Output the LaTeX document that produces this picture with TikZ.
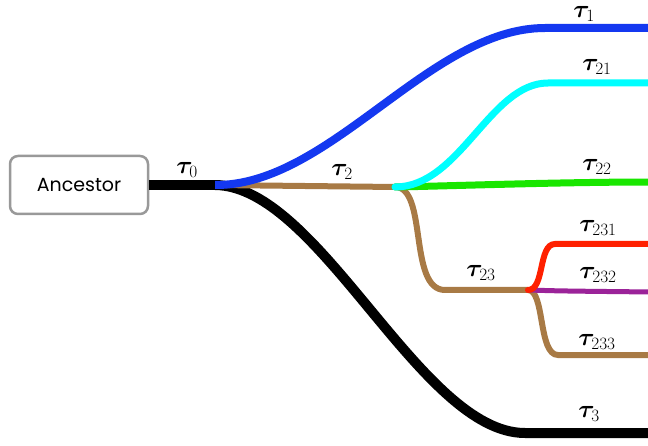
\documentclass[tikz,border=0pt]{standalone}
\usepackage{fontspec}
\setmainfont{Poppins}
\usepackage{amsmath}
\usepackage{bm}
\usepackage{tikz}
\definecolor{Tblue}{HTML}{1438F0}
\definecolor{Tcyan}{HTML}{00FFFF}
\definecolor{Tgreen}{HTML}{19E600}
\definecolor{Tbrown}{HTML}{A87A45}
\definecolor{Tred}{HTML}{FF2000}
\definecolor{Tpurple}{HTML}{9B2399}
\definecolor{Tgray}{HTML}{999999}
\tikzset{
  branch/.style={line cap=round},
  lbl/.style={inner sep=0pt, font=\fontsize{25}{30}\selectfont},
}

\begin{document}
\begin{tikzpicture}[x=1pt,y=-1pt]%
\useasboundingbox (0,0) rectangle (648,446);%
\node[draw=Tgray, line width=2.5pt, rounded corners=8pt, minimum width=138pt, minimum height=58pt, font=\fontsize{19}{22}\selectfont] (anc) at (79,185) {Ancestor};%
\coordinate (r0) at (215,185);%
\coordinate (r2) at (395,187);%
\coordinate (r23) at (528,290);%
\coordinate (e1) at (652,28);%
\coordinate (e21) at (652,83);%
\coordinate (e22) at (652,182);%
\coordinate (e231) at (652,244);%
\coordinate (e232) at (652,292);%
\coordinate (e233) at (652,355);%
\coordinate (e3) at (652,433);%
% branches
\draw[branch, line width=10pt, black] (r0) .. controls (320,186) and (420,433) .. (525,433) -- (e3);%
\draw[branch, line width=6pt, Tbrown] (r0) -- (r2);%
\draw[branch, line width=6pt, Tbrown] (r2) .. controls (428,187) and (408,290) .. (445,290) -- (r23);%
\draw[branch, line width=6pt, Tbrown] (r23) .. controls (545,290) and (538,355) .. (558,355) -- (e233);%
\draw[branch, line width=5pt, Tpurple] (r23) .. controls (560,291) .. (e232);%
\draw[branch, line width=6pt, Tred] (r23) .. controls (545,290) and (538,244) .. (555,244) -- (e231);%
\draw[branch, line width=7pt, Tgreen] (r2) .. controls (450,186) and (560,182) .. (e22);%
\draw[branch, line width=7pt, Tcyan] (r2) .. controls (460,187) and (490,83) .. (548,83) -- (e21);%
\draw[branch, line width=8pt, Tblue] (r0) .. controls (330,186) and (430,28) .. (545,28) -- (e1);%
\draw[line width=10pt, black] (anc.east) -- (r0);%
% labels
\node[lbl] (l0) at (187,170) {$\bm{\tau}_{0}$};%
\node[lbl] (l1) at (584,14) {$\bm{\tau}_{1}$};%
\node[lbl] (l2) at (342,172) {$\bm{\tau}_{2}$};%
\node[lbl] (l21) at (597,67) {$\bm{\tau}_{21}$};%
\node[lbl] (l22) at (597,167) {$\bm{\tau}_{22}$};%
\node[lbl] (l23) at (481,273) {$\bm{\tau}_{23}$};%
\node[lbl] (l231) at (598,228) {$\bm{\tau}_{231}$};%
\node[lbl] (l232) at (598,275) {$\bm{\tau}_{232}$};%
\node[lbl] (l233) at (597,342) {$\bm{\tau}_{233}$};%
\node[lbl] (l3) at (589,414) {$\bm{\tau}_{3}$};%
\end{tikzpicture}
\end{document}
